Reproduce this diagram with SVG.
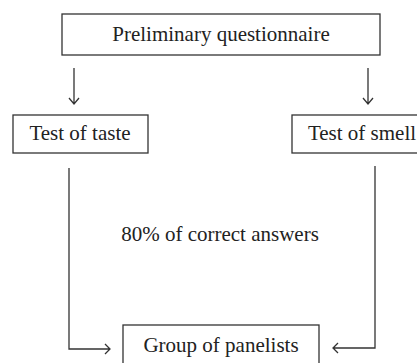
<svg xmlns="http://www.w3.org/2000/svg" width="417" height="363" viewBox="0 0 417 363">
<style>
.box{fill:#fff;stroke:#333;stroke-width:1.3}
.t{font-family:"Liberation Serif","Times New Roman",serif;font-size:21px;fill:#222;text-anchor:middle}
.ln{fill:none;stroke:#333;stroke-width:1.3}
</style>
<rect width="417" height="363" fill="#fff"/>
<g id="connectors" class="ln">
<path d="M74 68V104M69 98L74 104L79 98"/>
<path d="M368 68V104M363 98L368 104L373 98"/>
<path d="M69 168V349H110M105 344L110 349L105 354"/>
<path d="M375 166V348H333M338 343L333 348L338 353"/>
</g>
<g id="preliminary"><rect class="box" x="62" y="14" width="318" height="41"/><text class="t" x="221" y="41">Preliminary questionnaire</text></g>
<g id="taste"><rect class="box" x="13" y="115" width="135" height="38"/><text class="t" x="80" y="140">Test of taste</text></g>
<g id="smell"><rect class="box" x="292" y="115" width="140" height="38"/><text class="t" x="362" y="140">Test of smell</text></g>
<g id="label"><text class="t" x="220" y="241">80% of correct answers</text></g>
<g id="panelists"><rect class="box" x="123" y="325" width="196" height="50"/><text class="t" x="221" y="352">Group of panelists</text></g>
</svg>
